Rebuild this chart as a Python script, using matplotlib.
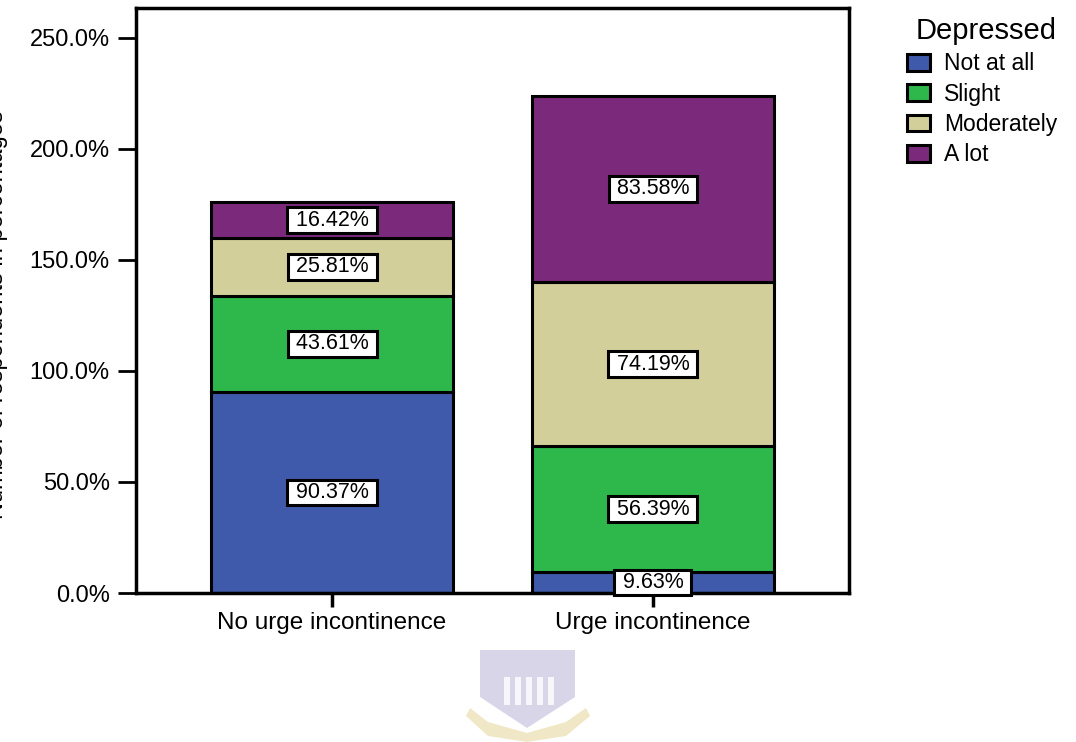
import matplotlib.pyplot as plt
from matplotlib.patches import Polygon, Rectangle, Patch

plt.rcParams["font.family"] = ["Liberation Sans", "DejaVu Sans"]

groups = ["No urge incontinence", "Urge incontinence"]
levels = ["Not at all", "Slight", "Moderately", "A lot"]
not_at_all = [90.37, 9.63]
slight = [43.61, 56.39]
moderately = [25.81, 74.19]
a_lot = [16.42, 83.58]
yticks = [0, 50, 100, 150, 200, 250]

colors = ["#3F5AAB", "#2EB84B", "#D3CF9A", "#7B2A7B"]

W, H = 1076, 742
fig = plt.figure(figsize=(W / 100, H / 100), dpi=100)
ax = fig.add_axes([136 / W, 1 - 593 / H, 713 / W, 585 / H])

x = [0, 1]
bottom = [0.0, 0.0]
for vals, col in zip([not_at_all, slight, moderately, a_lot], colors):
    ax.bar(x, vals, width=0.754, bottom=bottom, color=col,
           edgecolor="black", linewidth=2.2, zorder=2)
    for xi, b, v in zip(x, bottom, vals):
        ax.text(xi, b + v / 2, f" {v:.2f}% ", ha="center", va="center",
                fontsize=15.5, zorder=3,
                bbox=dict(boxstyle="square,pad=0.1", fc="white",
                          ec="black", lw=2.2))
    bottom = [b + v for b, v in zip(bottom, vals)]

ax.set_xlim(-0.611, 1.611)
ax.set_ylim(0, 263.5)
ax.set_xticks(x)
ax.set_xticklabels(groups, fontsize=17.5)
ax.set_yticks(yticks)
ax.set_yticklabels([f"{v:.1f}%" for v in yticks], fontsize=17)
ax.tick_params(axis="y", length=13, width=2, color="black", pad=6)
ax.tick_params(axis="x", length=10, width=2.5, color="black", pad=4)
for s in ax.spines.values():
    s.set_linewidth(2.5)

# axis title sits partly past the left edge
fig.text(-0.003, 1 - 315 / H, "Number of respondents in percentages",
         rotation=90, ha="center", va="center", fontsize=17)

handles = [Patch(facecolor=c, edgecolor="black", linewidth=2.2) for c in colors]
leg = fig.legend(handles, levels, title="Depressed", loc="upper left",
                 bbox_to_anchor=(891 / W, 1 - 1 / H), frameon=False,
                 fontsize=16.5, title_fontsize=21, handlelength=1.0,
                 handleheight=0.75, labelspacing=0.32, handletextpad=0.6,
                 borderpad=0.2)
leg._legend_box.align = "right"

# faint crest in the lower margin
def px(points):
    return [(a / 100, (H - b) / 100) for a, b in points]

shield = Polygon(px([(480, 650), (575, 650), (575, 697), (527, 728), (480, 697)]),
                 closed=True, fc="#B9B4D6", ec="none", alpha=0.55,
                 transform=fig.dpi_scale_trans)
fig.patches.append(shield)
rib = Polygon(px([(470, 708), (488, 722), (527, 733), (566, 722), (586, 708),
                  (590, 716), (566, 736), (527, 742), (488, 736), (466, 716)]),
              closed=True, fc="#E6D8A0", ec="none", alpha=0.6,
              transform=fig.dpi_scale_trans)
fig.patches.append(rib)
for i in range(5):
    fig.patches.append(Rectangle(((504 + i * 11) / 100, (H - 705) / 100),
                                 0.06, 0.28, fc="white", ec="none", alpha=0.8,
                                 transform=fig.dpi_scale_trans))

fig.savefig("out.png", dpi=100)
